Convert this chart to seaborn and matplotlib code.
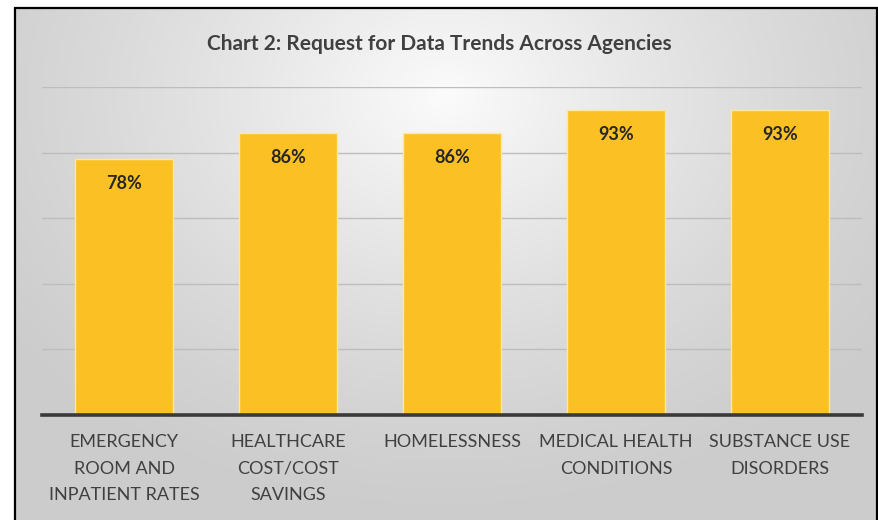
import numpy as np
import pandas as pd
import matplotlib
matplotlib.use("Agg")
import matplotlib.pyplot as plt
import seaborn as sns

categories = ["EMERGENCY\nROOM AND\nINPATIENT RATES", "HEALTHCARE\nCOST/COST\nSAVINGS",
              "HOMELESSNESS", "MEDICAL HEALTH\nCONDITIONS", "SUBSTANCE USE\nDISORDERS"]
values = [0.78, 0.86, 0.86, 0.93, 0.93]
value_labels = ["78%", "86%", "86%", "93%", "93%"]
title = "Chart 2: Request for Data Trends Across Agencies"

sns.set_theme(style="white")
plt.rcParams['font.family'] = ['Lato', 'DejaVu Sans']

W, H = 879, 520
fig = plt.figure(figsize=(W / 100, H / 100), dpi=100)
fig.patch.set_facecolor('white')

# radial gradient background inside the framed area
bg = fig.add_axes([0, 0, 1, 1], zorder=-10)
x0, y0 = 15, 8
yy, xx = np.mgrid[0:H, 0:W]
cx, cy = 445, 95
d = np.sqrt(((xx - cx) / 560.0) ** 2 + ((yy - cy) / 430.0) ** 2)
d = np.clip(d, 0, 1)
lo, hi = 0.985, 0.80
g = hi + (lo - hi) * (1 - d) ** 1.3
g[:y0, :] = 1.0
g[:, :x0] = 1.0
img = np.dstack([g, g, g])
bg.imshow(img, aspect='auto', extent=[0, W, H, 0])
bg.set_xlim(0, W); bg.set_ylim(H, 0)
bg.axis('off')
bg.plot([x0, x0, W - 1.5, W - 1.5], [H + 5, y0, y0, H + 5], color='black', lw=1.6,
        solid_joinstyle='miter')

df = pd.DataFrame({"cat": categories, "val": values})
ax = fig.add_axes([42 / W, (H - 415) / H, (862 - 42) / W, (415 - 87) / H])
ax.set_facecolor('none')
sns.barplot(data=df, x="cat", y="val", ax=ax, color="#FBC124", width=0.6,
            edgecolor="#FFE89A", linewidth=1.0, saturation=1, zorder=3)
ax.set_ylim(0, 1.0)
ax.set_xlim(-0.5, 4.5)
ax.set_yticks([0.2, 0.4, 0.6, 0.8, 1.0])
ax.yaxis.grid(True, color="#bdbdbd", lw=1.0, zorder=0)
ax.set_axisbelow(True)
ax.tick_params(axis='y', left=False, labelleft=False)
ax.tick_params(axis='x', bottom=False, labelsize=13, colors="#404040", pad=8)
for lab in ax.get_xticklabels():
    lab.set_linespacing(1.78)
ax.set_xlabel("")
ax.set_ylabel("")
for s in ["top", "right", "left"]:
    ax.spines[s].set_visible(False)
ax.spines["bottom"].set_color("#3a3a3a")
ax.spines["bottom"].set_linewidth(2.6)
ax.spines["bottom"].set_zorder(5)

ax.bar_label(ax.containers[0], labels=value_labels, padding=-24, fontsize=13,
             fontweight='bold', color="#262626")

fig.text(0.5, (H - 44) / H, title, ha='center', va='center', fontsize=15,
         fontweight='bold', color="#404040")

fig.savefig("out.png", dpi=100)
